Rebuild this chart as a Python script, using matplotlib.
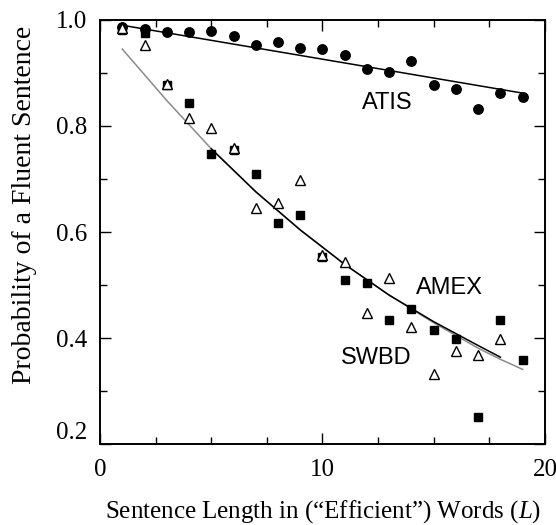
import matplotlib
matplotlib.use("Agg")
import matplotlib.pyplot as plt
from matplotlib.ticker import MultipleLocator

plt.rcParams["mathtext.fontset"] = "custom"
plt.rcParams["mathtext.it"] = "Liberation Serif:italic"
plt.rcParams["mathtext.rm"] = "Liberation Serif"

# ---- data ----
L = list(range(1, 20))
atis = [0.987, 0.982, 0.977, 0.978, 0.979, 0.969, 0.953, 0.959, 0.948, 0.946,
        0.934, 0.908, 0.902, 0.923, 0.877, 0.869, 0.833, 0.862, 0.854]

sq_L = list(range(1, 20))
squares = [0.981, 0.975, 0.877, 0.843, 0.747, 0.755, 0.709, 0.618, 0.632, 0.553,
           0.509, 0.504, 0.434, 0.455, 0.415, 0.398, 0.252, 0.435, 0.358]

tri_L = list(range(1, 19))
triangles = [0.985, 0.953, 0.880, 0.815, 0.796, 0.758, 0.646, 0.654, 0.699, 0.556,
             0.543, 0.448, 0.513, 0.421, 0.333, 0.376, 0.368, 0.399]

atis_fit_L = [1, 19]
atis_fit = [0.990, 0.862]

gray_fit_L = [1, 3, 5, 7, 9, 11, 13, 15, 17, 18, 19]
gray_fit = [0.945, 0.848, 0.757, 0.676, 0.604, 0.539, 0.481, 0.429, 0.381, 0.360, 0.341]

black_fit_L = [5, 7, 9, 11, 13, 15, 17, 18]
black_fit = [0.757, 0.676, 0.604, 0.539, 0.481, 0.431, 0.386, 0.364]

xticks = [0, 10, 20]
yticks = [0.2, 0.4, 0.6, 0.8, 1.0]
labels = {"ATIS": (12.9, 0.843), "AMEX": (15.7, 0.494), "SWBD": (12.4, 0.362)}

# ---- figure ----
fig = plt.figure(figsize=(5.56, 5.25), dpi=100)
ax = fig.add_axes([0.180, 0.154, 0.800, 0.808])

ax.plot(gray_fit_L, gray_fit, color="#8a8a8a", lw=1.1, zorder=2)
ax.plot(black_fit_L, black_fit, color="black", lw=1.1, zorder=3)
ax.plot(atis_fit_L, atis_fit, color="black", lw=1.1, zorder=3)

ax.plot(L, atis, "o", color="black", ms=6.8, zorder=4)
ax.plot(sq_L, squares, "s", color="black", ms=5.4, zorder=4)
ax.plot(tri_L, triangles, "^", mfc="white", mec="black", mew=1.0, ms=6.8, zorder=5)

sans = ["Liberation Sans", "DejaVu Sans"]
serif = ["Liberation Serif", "DejaVu Serif"]
for t, (x, y) in labels.items():
    ax.text(x, y, t, fontsize=17, family=sans, ha="center", va="center")

ax.set_xlim(0, 20)
ax.set_ylim(0.2, 1.0)
ax.set_xticks(xticks)
ax.set_yticks(yticks)
ax.xaxis.set_minor_locator(MultipleLocator(2.5))
ax.yaxis.set_minor_locator(MultipleLocator(0.1))
ax.set_yticklabels(["%.1f" % v for v in yticks])
ax.tick_params(which="both", direction="in", top=True, right=True, width=1.0)
ax.tick_params(which="major", length=8)
ax.tick_params(axis="y", which="major", pad=9)
ax.tick_params(axis="x", which="major", pad=11)
ax.tick_params(which="minor", length=5)
for lab in ax.get_xticklabels() + ax.get_yticklabels():
    lab.set_family(serif)
    lab.set_fontsize(18)
ax.get_yticklabels()[0].set_va("bottom")
for s in ax.spines.values():
    s.set_linewidth(1.4)

ax.set_xlabel("Sentence Length in (\u201cEfficient\u201d) Words ($\\mathit{L}$)",
              family=serif, fontsize=18)
ax.xaxis.set_label_coords(0.501, -0.128)
ax.set_ylabel("Probability of a Fluent Sentence", family=serif, fontsize=20)
ax.yaxis.set_label_coords(-0.169, 0.564)
ax.yaxis.label.set_va("center")

fig.savefig("out.png", dpi=100)
